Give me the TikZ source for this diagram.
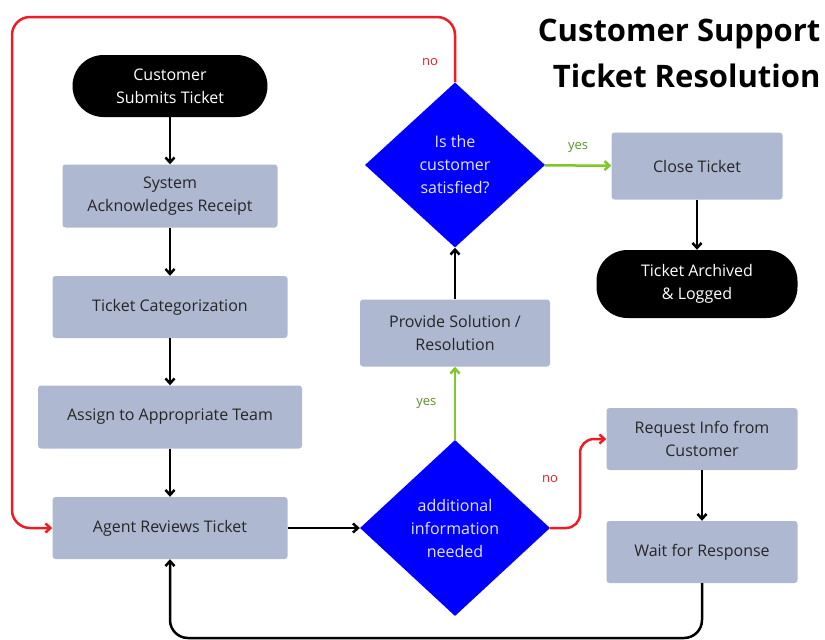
\documentclass[tikz,border=0pt]{standalone}
\usepackage{fontspec}
\setmainfont{Open Sans}
\usetikzlibrary{arrows.meta, shapes.geometric}

\definecolor{boxgray}{HTML}{AEB8D1}
\definecolor{decblue}{HTML}{0000FF}
\definecolor{yesgreen}{HTML}{80C82A}
\definecolor{yestext}{HTML}{5E8F2C}
\definecolor{nored}{HTML}{EE1C25}

\begin{document}
\begin{tikzpicture}[
    x=1pt, y=-1pt,
    proc/.style={rectangle, rounded corners=3pt, fill=boxgray, align=center, font=\fontsize{16}{23}\selectfont, text=black!85},
    term/.style={rectangle, rounded corners=31pt, fill=black, text=white, align=center, font=\fontsize{16}{23}\selectfont},
    dec/.style={diamond, aspect=1, inner sep=0pt, fill=decblue, text=white!90!blue, align=center, font=\fontsize{16}{23}\selectfont},
    flow/.style={line width=2.5pt, -{Straight Barb[length=5pt, width=9pt]}},
    lbl/.style={font=\fontsize{13}{15}\selectfont},
]
    \useasboundingbox (0,0) rectangle (825,640);

    % titel
    \node[anchor=east, font=\fontsize{31}{36}\selectfont\bfseries] (t1) at (824,34) {Customer Support};
    \node[anchor=east, font=\fontsize{31}{36}\selectfont\bfseries] (t2) at (824,76) {Ticket Resolution};

    % linke Spalte
    \node[term, minimum width=195pt, minimum height=62pt] (start) at (170,86) {Customer\\Submits Ticket};
    \node[proc, minimum width=215pt, minimum height=63pt] (ack) at (170,196) {System\\Acknowledges Receipt};
    \node[proc, minimum width=235pt, minimum height=62pt] (cat) at (170,307) {Ticket Categorization};
    \node[proc, minimum width=264pt, minimum height=63pt] (assign) at (170,417) {Assign to Appropriate Team};
    \node[proc, minimum width=235pt, minimum height=62pt] (agent) at (170,528) {Agent Reviews Ticket};

    % mittlere Spalte
    \node[dec, minimum width=190pt, minimum height=176pt] (info) at (455,528) {additional\\information\\needed};
    \node[proc, minimum width=190pt, minimum height=67pt] (solve) at (455,333) {Provide Solution /\\Resolution};
    \node[dec, minimum width=180pt, minimum height=165pt] (happy) at (455,165) {Is the\\customer\\satisfied?};

    % rechte Spalte
    \node[proc, minimum width=171pt, minimum height=67pt] (close) at (697,166) {Close Ticket};
    \node[term, minimum width=201pt, minimum height=68pt] (archive) at (697,284) {Ticket Archived\\\& Logged};
    \node[proc, minimum width=191pt, minimum height=62pt] (request) at (702,439) {Request Info from\\Customer};
    \node[proc, minimum width=191pt, minimum height=62pt] (wait) at (702,552) {Wait for Response};

    % Pfeile
    \draw[flow] (start) -- (ack);
    \draw[flow] (ack) -- (cat);
    \draw[flow] (cat) -- (assign);
    \draw[flow] (assign) -- (agent);
    \draw[flow] (agent) -- (info);
    \draw[flow, yesgreen] (info) -- node[lbl, text=yestext, left=14pt] {yes} (solve);
    \draw[flow] (solve) -- (happy);
    \draw[flow, yesgreen] (happy) -- node[lbl, text=yestext, above=8pt] {yes} (close);
    \draw[flow] (close) -- (archive);
    \draw[flow] (request) -- (wait);
    \draw[flow, nored, rounded corners=14pt] (info.east) -- (580,528) -- (580,439) -- (request.west);
    \node[lbl, text=nored] (no1) at (550,479) {no};
    \draw[flow, nored, rounded corners=18pt] (happy.north) -- (455,17) -- (12,17) -- (12,528) -- (agent.west);
    \node[lbl, text=nored] (no2) at (430,62) {no};
    \draw[flow, rounded corners=18pt] (wait.south) -- (702,638) -- (170,638) -- (agent.south);
\end{tikzpicture}
\end{document}
